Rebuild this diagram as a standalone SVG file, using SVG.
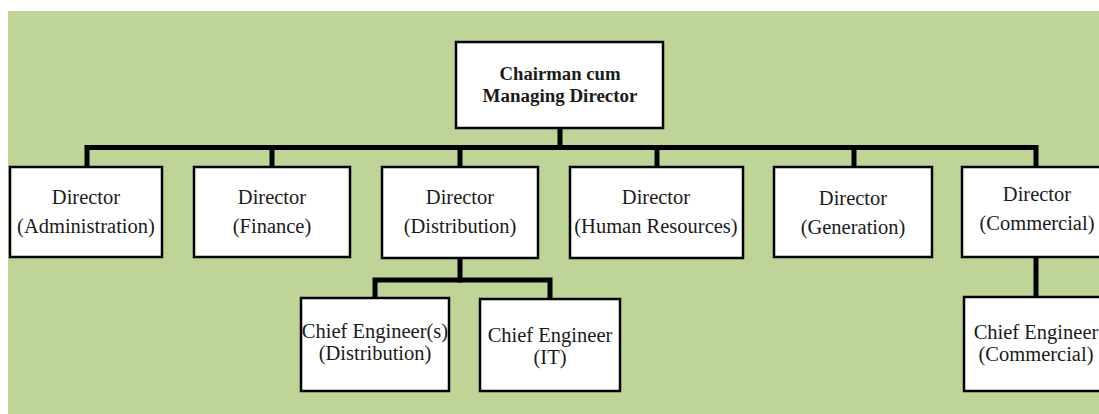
<svg xmlns="http://www.w3.org/2000/svg" width="1099" height="414" viewBox="0 0 1099 414">
<style>
.box{fill:#ffffff;stroke:#000000;stroke-width:2.5}
.ln{fill:none;stroke:#000000;stroke-width:5;stroke-linejoin:miter;stroke-linecap:square}
text{font-family:"Liberation Serif","Times New Roman",serif;font-size:20.5px;fill:#1a1a1a;text-anchor:middle}
.b{font-weight:bold;font-size:18.5px}
</style>
<rect x="0" y="0" width="1099" height="414" fill="#ffffff"/>
<rect x="8" y="11" width="1091" height="403" fill="#bfd598"/>
<g id="connectors">
<path class="ln" d="M560,128 V147.5"/>
<path class="ln" d="M87,167 V147.5 H1036 V167"/>
<path class="ln" d="M272,147.5 V167"/>
<path class="ln" d="M460,147.5 V167"/>
<path class="ln" d="M657,147.5 V167"/>
<path class="ln" d="M854,147.5 V167"/>
<path class="ln" d="M460,258 V280"/>
<path class="ln" d="M375,298 V280 H550 V299"/>
<path class="ln" d="M1036,257 V297"/>
</g>
<g id="chairman">
<rect class="box" x="456" y="42" width="207" height="86"/>
<text class="b" x="560" y="80" textLength="121" lengthAdjust="spacingAndGlyphs">Chairman cum</text>
<text class="b" x="560" y="102" textLength="155" lengthAdjust="spacingAndGlyphs">Managing Director</text>
</g>
<g id="dir-admin">
<rect class="box" x="10" y="167" width="152" height="90"/>
<text x="86" y="204">Director</text>
<text x="86" y="233">(Administration)</text>
</g>
<g id="dir-finance">
<rect class="box" x="194" y="167" width="156" height="90"/>
<text x="272" y="204">Director</text>
<text x="272" y="233">(Finance)</text>
</g>
<g id="dir-distribution">
<rect class="box" x="382" y="167" width="156" height="91"/>
<text x="460" y="204">Director</text>
<text x="460" y="233">(Distribution)</text>
</g>
<g id="dir-hr">
<rect class="box" x="570" y="167" width="173" height="91"/>
<text x="656" y="204">Director</text>
<text x="656" y="233">(Human Resources)</text>
</g>
<g id="dir-generation">
<rect class="box" x="774" y="167" width="158" height="90"/>
<text x="853" y="205">Director</text>
<text x="853" y="234">(Generation)</text>
</g>
<g id="dir-commercial">
<rect class="box" x="962" y="167" width="150" height="90"/>
<text x="1037" y="201">Director</text>
<text x="1037" y="230">(Commercial)</text>
</g>
<g id="ce-distribution">
<rect class="box" x="301" y="298" width="148" height="93"/>
<text x="375" y="338">Chief Engineer(s)</text>
<text x="375" y="360">(Distribution)</text>
</g>
<g id="ce-it">
<rect class="box" x="480" y="299" width="140" height="92"/>
<text x="550" y="342">Chief Engineer</text>
<text x="550" y="364">(IT)</text>
</g>
<g id="ce-commercial">
<rect class="box" x="964" y="297" width="150" height="94"/>
<text x="1036" y="339">Chief Engineer</text>
<text x="1036" y="361">(Commercial)</text>
</g>
</svg>
